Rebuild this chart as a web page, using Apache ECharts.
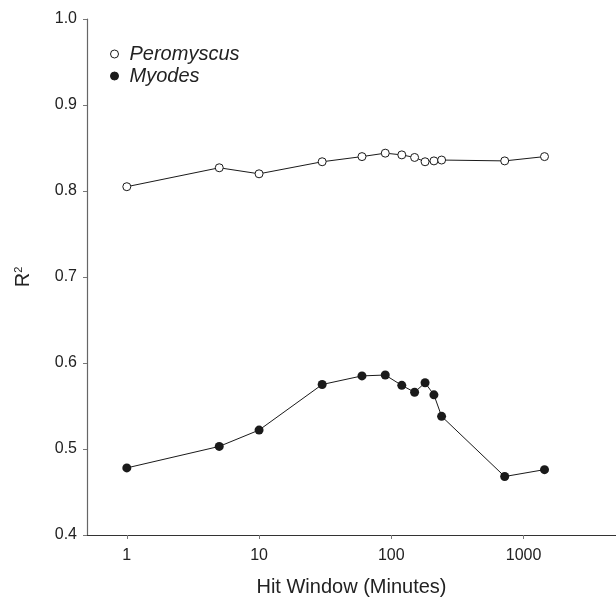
<!DOCTYPE html>
<html>
<head>
<meta charset="utf-8">
<script src="https://cdn.jsdelivr.net/npm/echarts@6/dist/echarts.min.js"></script>
<style>
  html, body { margin: 0; padding: 0; background: #fff; }
  #chart { width: 616px; height: 602px; }
</style>
</head>
<body>
<div id="chart"></div>
<script>
// hit window (minutes), log x axis
let hitWindow = [1, 5, 10, 30, 60, 90, 120, 150, 180, 210, 240, 720, 1440];
let peromyscus = [0.805, 0.827, 0.820, 0.834, 0.840, 0.844, 0.842, 0.839, 0.834, 0.835, 0.836, 0.835, 0.840];
let myodes = [0.478, 0.503, 0.522, 0.575, 0.585, 0.586, 0.574, 0.566, 0.577, 0.563, 0.538, 0.468, 0.476];
let xTicks = [1, 10, 100, 1000];

function pairs(xs, ys){
    return xs.map((x, i) => [x, ys[i]]);
}

let chart = echarts.init(document.getElementById('chart'));
let font = 'Liberation Sans, Arial, Helvetica, sans-serif';

let option = {
    animation: false,
    backgroundColor: '#fff',
    textStyle: { fontFamily: font },
    grid: { left: 87, right: -1, top: 19, bottom: 60, containLabel: false },
    legend: {
        orient: 'vertical',
        left: 105,
        top: 39,
        icon: 'circle',
        itemWidth: 20,
        itemHeight: 8,
        itemGap: 2,
        itemStyle: { borderWidth: 1 },
        textStyle: { fontSize: 20, fontStyle: 'italic', color: '#222', fontFamily: font },
        data: ['Peromyscus', 'Myodes']
    },
    xAxis: {
        type: 'log',
        logBase: 10,
        min: 0.5,
        max: 5000,
        name: 'Hit Window (Minutes)',
        nameLocation: 'middle',
        nameGap: 42,
        nameTextStyle: { fontSize: 20, color: '#222' },
        axisLine: { lineStyle: { color: '#333', width: 1.2 } },
        axisTick: { length: 4, lineStyle: { color: '#777' }, customValues: xTicks },
        axisLabel: {
            fontSize: 16, color: '#222', margin: 13,
            customValues: xTicks,
            formatter: v => String(Math.round(v))
        },
        splitLine: { show: false }
    },
    yAxis: {
        type: 'value',
        min: 0.4,
        max: 1.0,
        interval: 0.1,
        name: '{r|R}{s|2}',
        nameLocation: 'middle',
        nameGap: 54,
        nameRotate: 90,
        nameTextStyle: {
            color: '#222',
            rich: {
                r: { fontSize: 20, color: '#222' },
                s: { fontSize: 11, color: '#222', verticalAlign: 'top', padding: [0, 0, 8, 0] }
            }
        },
        axisLine: { show: true, lineStyle: { color: '#666', width: 1.2 } },
        axisTick: { show: true, length: 4, lineStyle: { color: '#777' } },
        axisLabel: { fontSize: 16, color: '#222', margin: 10, formatter: v => v.toFixed(1) },
        splitLine: { show: false }
    },
    series: [
        {
            name: 'Peromyscus',
            type: 'line',
            data: pairs(hitWindow, peromyscus),
            symbol: 'circle',
            symbolSize: 8,
            lineStyle: { color: '#1a1a1a', width: 1 },
            itemStyle: { color: '#fff', borderColor: '#1a1a1a', borderWidth: 1 }
        },
        {
            name: 'Myodes',
            type: 'line',
            data: pairs(hitWindow, myodes),
            symbol: 'circle',
            symbolSize: 9,
            lineStyle: { color: '#1a1a1a', width: 1 },
            itemStyle: { color: '#1a1a1a', borderColor: '#1a1a1a', borderWidth: 0 }
        }
    ]
};

chart.setOption(option);
</script>
</body>
</html>
